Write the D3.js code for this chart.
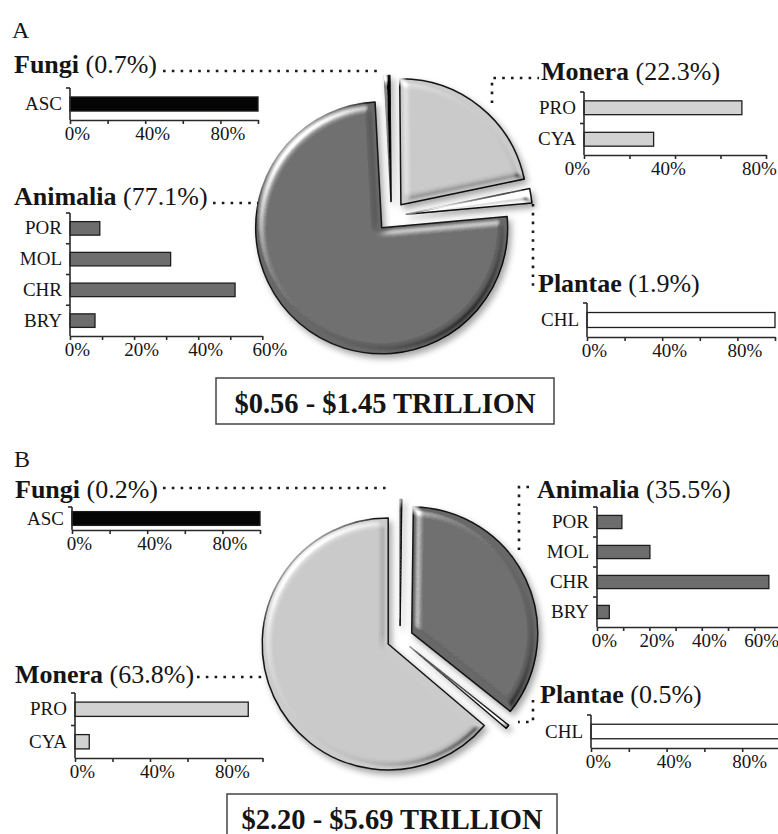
<!DOCTYPE html>
<html><head><meta charset="utf-8">
<script src="https://cdn.jsdelivr.net/npm/d3@7"></script>
<style>
body{margin:0;background:#fff;}
svg text{font-family:"Liberation Serif","Times New Roman",serif;fill:#151515;}
</style></head><body>
<svg id="chart" width="778" height="834"></svg>
<script>
// Share of value (%) by kingdom, listed clockwise from 12 o'clock
const kingdomsA = ["Fungi", "Monera", "Plantae", "Animalia"];
const sharesA = [0.7, 22.3, 1.9, 77.1];
const kingdomsB = ["Fungi", "Animalia", "Plantae", "Monera"];
const sharesB = [0.2, 35.5, 0.5, 63.8];
const panelNames = ["A", "B"];
const totals = ["$0.56 - $1.45 TRILLION", "$2.20 - $5.69 TRILLION"];

// Breakdown inside each kingdom (%)
const fungiCats = ["ASC"];
const fungiA = [100];
const fungiB = [100];
const moneraCats = ["PRO", "CYA"];
const moneraA = [69.4, 30.6];
const moneraB = [92.4, 7.6];
const plantaeCats = ["CHL"];
const plantaeA = [100];
const plantaeB = [100];
const animaliaCats = ["POR", "MOL", "CHR", "BRY"];
const animaliaA = [9.3, 31.4, 51.5, 7.8];
const animaliaB = [9.5, 20.2, 65.6, 4.7];

const svg = d3.select("#chart");
svg.append("rect").attr("width", 778).attr("height", 834).attr("fill", "#fff");

const sliceFill = {Fungi: "#070707", Monera: "#cbcbcb", Plantae: "#ffffff", Animalia: "#676767"};
const barFill = {Fungi: "#050505", Monera: "#d2d2d2", Plantae: "#ffffff", Animalia: "#6d6d6d"};
const fmt = d3.format(".1f");

// ---- bevel + soft shadow for the pie slices (region in each slice's local space)
const defs = svg.append("defs");
const f = defs.append("filter").attr("id", "bevel")
  .attr("filterUnits", "userSpaceOnUse").attr("x", -170).attr("y", -170).attr("width", 340).attr("height", 340);
f.append("feGaussianBlur").attr("in", "SourceAlpha").attr("stdDeviation", 4).attr("result", "blur");
f.append("feSpecularLighting").attr("in", "blur").attr("surfaceScale", 5)
  .attr("specularConstant", 1).attr("specularExponent", 18).attr("lighting-color", "#fff").attr("result", "hiRaw")
  .append("feDistantLight").attr("azimuth", 225).attr("elevation", 40);
f.append("feColorMatrix").attr("in", "hiRaw").attr("type", "matrix")
  .attr("values", "0 0 0 0 1  0 0 0 0 1  0 0 0 0 1  0 0 0 1.3 -0.18").attr("result", "hiCol");
f.append("feComposite").attr("in", "hiCol").attr("in2", "SourceAlpha").attr("operator", "in").attr("result", "hi");
f.append("feSpecularLighting").attr("in", "blur").attr("surfaceScale", 5)
  .attr("specularConstant", 1).attr("specularExponent", 18).attr("lighting-color", "#fff").attr("result", "shRaw")
  .append("feDistantLight").attr("azimuth", 45).attr("elevation", 40);
f.append("feColorMatrix").attr("in", "shRaw").attr("type", "matrix")
  .attr("values", "0 0 0 0 0  0 0 0 0 0  0 0 0 0 0  0 0 0 0.9 -0.12").attr("result", "shCol");
f.append("feComposite").attr("in", "shCol").attr("in2", "SourceAlpha").attr("operator", "in").attr("result", "sh");
f.append("feGaussianBlur").attr("in", "SourceAlpha").attr("stdDeviation", 3).attr("result", "dsBlur");
f.append("feOffset").attr("in", "dsBlur").attr("dx", 3).attr("dy", 4).attr("result", "dsOff");
f.append("feColorMatrix").attr("in", "dsOff").attr("type", "matrix")
  .attr("values", "0 0 0 0 0  0 0 0 0 0  0 0 0 0 0  0 0 0 0.35 0").attr("result", "ds");
const m = f.append("feMerge");
["ds", "SourceGraphic", "hi", "sh"].forEach(k => m.append("feMergeNode").attr("in", k));

function drawPie(names, shares, cx, cy, r, explode, rotDeg) {
  const g = svg.append("g");
  const a0 = rotDeg * Math.PI / 180;
  const arcs = d3.pie().sort(null).startAngle(a0).endAngle(a0 + 2 * Math.PI)(shares);
  const arc = d3.arc().innerRadius(0).outerRadius(r);
  g.selectAll("path").data(arcs).join("path")
    .attr("transform", d => {
      const mid = (d.startAngle + d.endAngle) / 2;
      return `translate(${cx + explode * Math.sin(mid)},${cy - explode * Math.cos(mid)})`;
    })
    .attr("d", arc)
    .attr("fill", (d, i) => sliceFill[names[i]])
    .attr("stroke", "#141414").attr("stroke-width", 1.5).attr("stroke-linejoin", "round")
    .attr("filter", "url(#bevel)");
}

function leader(points) {
  svg.append("path").attr("d", d3.line()(points))
    .attr("fill", "none").attr("stroke", "#1a1a1a").attr("stroke-width", 2.6)
    .attr("stroke-dasharray", "2.6 6.2");
}

function title(kingdom, share, x, y) {
  const t = svg.append("text").attr("x", x).attr("y", y).attr("font-size", 26);
  t.append("tspan").attr("font-weight", "bold").text(kingdom);
  t.append("tspan").text(` (${fmt(share)}%)`);
}

function barBlock(o) {
  const g = svg.append("g");
  const pad = o.pad ?? 0.56;
  const x = d3.scaleLinear().domain([0, o.max]).range([o.x0, o.x1]);
  const y = d3.scaleBand().domain(o.cats).range([o.y0, o.y1]).paddingInner(pad).paddingOuter(pad / 2);
  g.selectAll("rect").data(o.vals).join("rect")
    .attr("x", x(0)).attr("y", (d, i) => y(o.cats[i]))
    .attr("width", d => x(d) - x(0)).attr("height", y.bandwidth())
    .attr("fill", barFill[o.kingdom]).attr("stroke", "#1e1e1e").attr("stroke-width", 1.3);

  const ax = d3.axisBottom(x).tickValues(d3.range(0, o.max + 1e-9, o.step))
    .tickSize(4).tickSizeOuter(0).tickPadding(3)
    .tickFormat(d => (d % o.lab === 0 ? d + "%" : ""));
  const axg = g.append("g").attr("transform", `translate(0,${o.y1})`).call(ax);
  axg.selectAll("line,path").attr("stroke", "#2a2a2a").attr("stroke-width", 1.6);
  axg.selectAll("text").attr("font-size", 19).attr("font-family", null).attr("dx", o.dx ?? 7);

  const ay = d3.axisLeft(y).tickSize(0).tickPadding(8);
  const ayg = g.append("g").attr("transform", `translate(${o.x0},0)`).call(ay);
  ayg.select(".domain").attr("d", `M0,${o.y0}V${o.y1}`).attr("stroke", "#2a2a2a").attr("stroke-width", 1.6);
  ayg.selectAll("text").attr("font-size", 19).attr("font-family", null);
  ayg.selectAll("line.edge").data(d3.range(o.cats.length)).join("line").attr("class", "edge")
    .attr("x1", -4).attr("x2", 0)
    .attr("y1", i => o.y0 + i * y.step()).attr("y2", i => o.y0 + i * y.step())
    .attr("stroke", "#2a2a2a").attr("stroke-width", 1.6);
}

function totalBox(txt, x, y, w, h, tx, ty) {
  svg.append("rect").attr("x", x).attr("y", y).attr("width", w).attr("height", h)
    .attr("fill", "#fff").attr("stroke", "#444").attr("stroke-width", 1.5);
  svg.append("text").attr("x", tx).attr("y", ty).attr("text-anchor", "middle")
    .attr("font-size", 28.5).attr("font-weight", "bold").text(txt);
}

// ================= Panel A =================
svg.append("text").attr("x", 12).attr("y", 38).attr("font-size", 24).text(panelNames[0]);
drawPie(kingdomsA, sharesA, 391.5, 216.5, 126, 15, -3);

title("Fungi", sharesA[0], 14, 73);
leader([[163, 71], [382, 71]]);
barBlock({kingdom: "Fungi", cats: fungiCats, vals: fungiA, x0: 70, x1: 258, max: 100, step: 20, lab: 40, y0: 88, y1: 120});

title("Animalia", sharesA[3], 14, 205);
leader([[213, 203], [258, 203]]);
barBlock({kingdom: "Animalia", cats: animaliaCats, vals: animaliaA, x0: 70, x1: 262.3, max: 60, step: 10, lab: 20, y0: 213, y1: 336});

title("Monera", sharesA[1], 541, 80);
leader([[492, 103], [492, 78], [539, 78]]);
barBlock({kingdom: "Monera", cats: moneraCats, vals: moneraA, x0: 584, x1: 766, max: 80, step: 20, lab: 40, y0: 92, y1: 155, dx: -7});

title("Plantae", sharesA[2], 538, 292);
leader([[533, 204], [533, 288]]);
barBlock({kingdom: "Plantae", cats: plantaeCats, vals: plantaeA, x0: 587, x1: 775, max: 100, step: 20, lab: 40, y0: 303, y1: 337});

totalBox(totals[0], 216, 378, 338, 46, 385, 413);

// ================= Panel B =================
svg.append("text").attr("x", 14).attr("y", 467).attr("font-size", 24).text(panelNames[1]);
drawPie(kingdomsB, sharesB, 400, 638.5, 126, 13, 0);

title("Fungi", sharesB[0], 15, 498);
leader([[163, 488], [390, 488]]);
barBlock({kingdom: "Fungi", cats: fungiCats, vals: fungiB, x0: 72, x1: 260, max: 100, step: 20, lab: 40, y0: 507, y1: 530, pad: 0.4});

title("Animalia", sharesB[1], 537, 498);
leader([[519, 550], [519, 487], [535, 487]]);
barBlock({kingdom: "Animalia", cats: animaliaCats, vals: animaliaB, x0: 597, x1: 780.4, max: 70, step: 10, lab: 20, y0: 507, y1: 627});

title("Monera", sharesB[3], 15, 683);
leader([[197, 677], [265, 677]]);
barBlock({kingdom: "Monera", cats: moneraCats, vals: moneraB, x0: 75, x1: 262.5, max: 100, step: 20, lab: 40, y0: 693, y1: 758});

title("Plantae", sharesB[2], 540, 703);
leader([[533, 700], [533, 722], [518, 722]]);
barBlock({kingdom: "Plantae", cats: plantaeCats, vals: plantaeB, x0: 591, x1: 780, max: 100, step: 20, lab: 40, y0: 715, y1: 748});

totalBox(totals[1], 227, 794, 330, 46, 392, 829);
</script>
</body></html>
